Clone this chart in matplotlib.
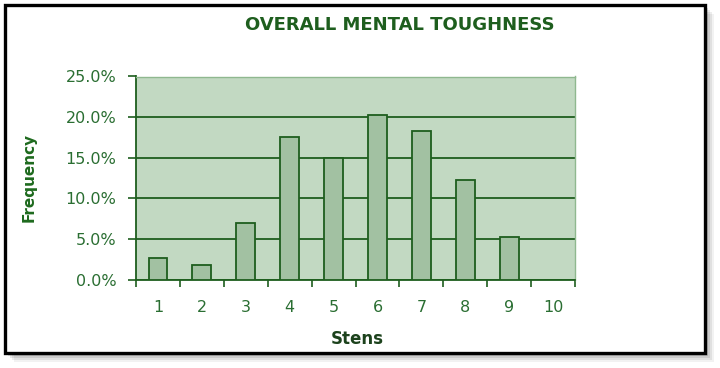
import matplotlib
matplotlib.use("Agg")
import matplotlib.pyplot as plt
from matplotlib.patches import Rectangle
from matplotlib.ticker import FuncFormatter, FixedLocator

categories = ["1", "2", "3", "4", "5", "6", "7", "8", "9", "10"]
frequency = [2.6, 1.8, 7.0, 17.6, 15.0, 20.2, 18.3, 12.3, 5.2, 0.0]
title = "OVERALL MENTAL TOUGHNESS"
ylabel = "Frequency"
xlabel = "Stens"

plt.rcParams['font.family'] = ['DejaVu Sans']

W, H = 720, 368
fig = plt.figure(figsize=(7.2, 3.68), dpi=100)
fig.patch.set_facecolor('white')

# shadow and frame
for i, a in enumerate([0.05, 0.07, 0.09, 0.11, 0.13]):
    off = 9 - i * 2
    fig.patches.append(Rectangle(((5 + off) / W, 1 - (353 + off) / H), 700 / W, 348 / H,
                                 transform=fig.transFigure, facecolor='black', alpha=a,
                                 edgecolor='none', zorder=0))
fig.patches.append(Rectangle((5 / W, 1 - 353 / H), 700 / W, 348 / H, transform=fig.transFigure,
                             facecolor='white', edgecolor='black', linewidth=2.4, zorder=1))

left, right, top, bottom = 136, 575, 76.5, 279.5
ax = fig.add_axes([left / W, 1 - bottom / H, (right - left) / W, (bottom - top) / H])
ax.set_zorder(2)
ax.set_facecolor('#C2D9C2')

dark = '#1E5E1E'
txt = '#2A6E32'
x = list(range(len(categories)))
ax.bar(x, frequency, width=0.43, color='#A2C1A2', edgecolor=dark, linewidth=1.3, zorder=3)
ax.set_xlim(-0.5, len(categories) - 0.5)
ax.set_ylim(0, 25)
ax.set_yticks([0, 5, 10, 15, 20, 25])
ax.yaxis.set_major_formatter(FuncFormatter(lambda v, p: f"{v:.1f}%"))
ax.grid(axis='y', color=dark, linewidth=1.3, zorder=1)
ax.set_axisbelow(True)

ax.set_xticks(x)
ax.set_xticklabels(categories)
ax.xaxis.set_minor_locator(FixedLocator([i - 0.5 for i in range(len(categories) + 1)]))
ax.tick_params(axis='x', which='major', length=0, pad=15, labelsize=11.5, labelcolor=txt)
ax.tick_params(axis='x', which='minor', length=5, width=1.2, color=dark, direction='out')
ax.tick_params(axis='y', length=6, width=1.2, color=dark, direction='out', labelsize=11.5,
               labelcolor=txt, pad=8)

for s in ['top', 'right']:
    ax.spines[s].set_color('#8FB88F')
    ax.spines[s].set_linewidth(1.0)
ax.spines['left'].set_color(dark)
ax.spines['left'].set_linewidth(1.3)
ax.spines['bottom'].set_color(dark)
ax.spines['bottom'].set_linewidth(1.3)

fig.text(400 / W, 1 - 25.5 / H, title, ha='center', va='center', fontsize=13, fontweight='bold',
         color='#1E5E1E', zorder=5)
fig.text(29 / W, 1 - 177.5 / H, ylabel, ha='center', va='center', rotation=90, fontsize=11,
         fontweight='bold', color='#1E6A1E', zorder=5)
fig.text(357 / W, 1 - 339 / H, xlabel, ha='center', va='center', fontsize=12,
         fontweight='bold', color='#1C421C', zorder=5)

fig.savefig('out.png', dpi=100)
